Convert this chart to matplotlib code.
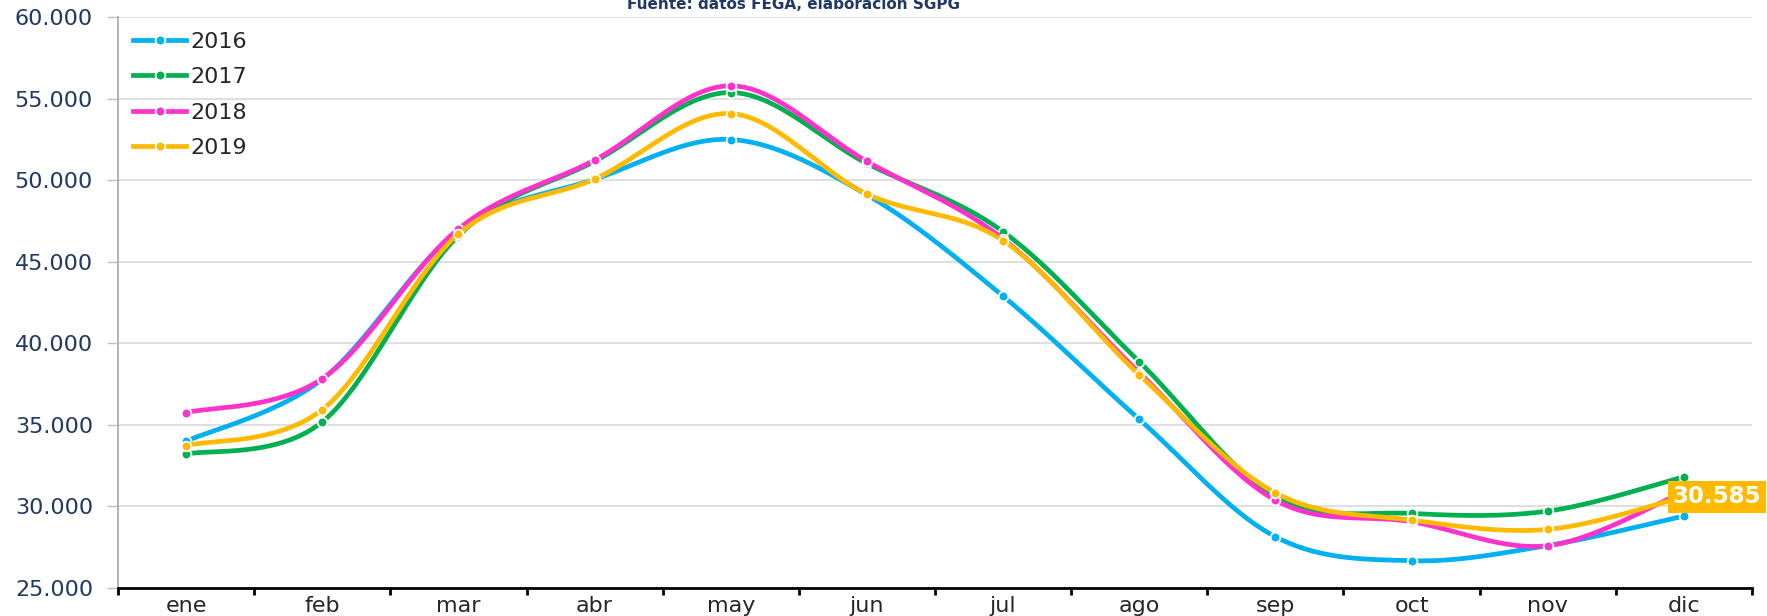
import matplotlib
matplotlib.use("Agg")
import matplotlib.pyplot as plt
from matplotlib.lines import Line2D
from matplotlib.ticker import FuncFormatter, FixedLocator
import numpy as np

months = ["ene", "feb", "mar", "abr", "may", "jun",
          "jul", "ago", "sep", "oct", "nov", "dic"]

v2016 = [34000, 37800, 46900, 50050, 52490, 49100, 42890, 35340, 28140, 26670, 27600, 29410]
v2017 = [33200, 35180, 46600, 51150, 55370, 51020, 46840, 38870, 30600, 29570, 29710, 31810]
v2018 = [35750, 37830, 47010, 51230, 55780, 51150, 46400, 38200, 30380, 29060, 27590, 30900]
v2019 = [33730, 35930, 46700, 50070, 54080, 49150, 46290, 38070, 30830, 29160, 28590, 30585]

series = [("2016", v2016, "#00B0F0"),
          ("2017", v2017, "#00B050"),
          ("2018", v2018, "#FF33CC"),
          ("2019", v2019, "#FFBA00")]

navy = "#1F3864"


def smooth(x, y, n=30):
    # Bezier / Catmull-Rom style smoothing between the points
    x = np.asarray(x, float)
    y = np.asarray(y, float)
    px = np.concatenate([[x[0]], x, [x[-1]]])
    py = np.concatenate([[y[0]], y, [y[-1]]])
    xs, ys = [], []
    t = np.linspace(0, 1, n)
    for i in range(1, len(px) - 2):
        p0, p1, p2, p3 = (np.array([px[j], py[j]]) for j in (i - 1, i, i + 1, i + 2))
        c1 = p1 + (p2 - p0) / 6
        c2 = p2 - (p3 - p1) / 6
        b = ((1 - t) ** 3)[:, None] * p1 + (3 * (1 - t) ** 2 * t)[:, None] * c1 \
            + (3 * (1 - t) * t ** 2)[:, None] * c2 + (t ** 3)[:, None] * p2
        xs.extend(b[:, 0])
        ys.extend(b[:, 1])
    return xs, ys


fig = plt.figure(figsize=(17.67, 6.16), dpi=100)
ax = fig.add_axes([0.0668, 0.0455, 0.9247, 0.9269])

x = np.arange(len(months))
handles = []
for i, (name, vals, col) in enumerate(series):
    sx, sy = smooth(x, vals)
    ax.plot(sx, sy, color=col, lw=3.4, solid_capstyle="round", zorder=3 + i)
    ax.plot(x, vals, "o", color=col, ms=7, mec="white", mew=1.3, zorder=3 + i)
    handles.append(Line2D([], [], color=col, lw=3.4, marker="o", ms=7,
                          mec="white", mew=1.3, label=name))

# label on the last 2019 value
ax.annotate(f"{v2019[-1]:,}".replace(",", "."), xy=(x[-1], v2019[-1]),
            xytext=(-8, 0), textcoords="offset points", ha="left", va="center",
            fontsize=16.5, fontweight="bold", color="white",
            bbox=dict(boxstyle="square,pad=0.2", fc="#FFBA00", ec="none"),
            annotation_clip=False, zorder=10, clip_on=False)

ax.set_xlim(-0.5, len(months) - 0.5)
ax.set_ylim(25000, 60000)
ax.set_yticks(np.arange(25000, 60001, 5000))
ax.yaxis.set_major_formatter(FuncFormatter(lambda v, p: f"{int(v):,}".replace(",", ".")))
ax.grid(axis="y", color="#D9D9D9", lw=1.2, zorder=0)

ax.xaxis.set_major_locator(FixedLocator(np.arange(-0.5, len(months), 1.0)))
ax.xaxis.set_minor_locator(FixedLocator(x))
ax.set_xticklabels([], minor=False)
ax.set_xticklabels(months, minor=True, fontsize=16, color="#262626")
ax.tick_params(axis="x", which="major", length=5, width=2, color="black", direction="out")
ax.tick_params(axis="x", which="minor", length=0, pad=6)
ax.tick_params(axis="y", length=8, width=1, color="#BFBFBF", labelsize=16,
               labelcolor=navy, pad=10)

for s in ("top", "right"):
    ax.spines[s].set_visible(False)
ax.spines["left"].set_color("#A6A6A6")
ax.spines["left"].set_linewidth(1.2)
ax.spines["bottom"].set_color("black")
ax.spines["bottom"].set_linewidth(2)

leg = ax.legend(handles=handles, loc="upper left", bbox_to_anchor=(0.004, 0.99),
                frameon=False, fontsize=16, handlelength=2.35, labelspacing=0.7,
                handletextpad=0.2, borderaxespad=0)
for t in leg.get_texts():
    t.set_color("#262626")

fig.text(0.449, 0.992, "Fuente: datos FEGA, elaboración SGPG", ha="center", va="center",
         fontsize=11, fontweight="bold", color=navy)

fig.savefig("out.png", dpi=100)
